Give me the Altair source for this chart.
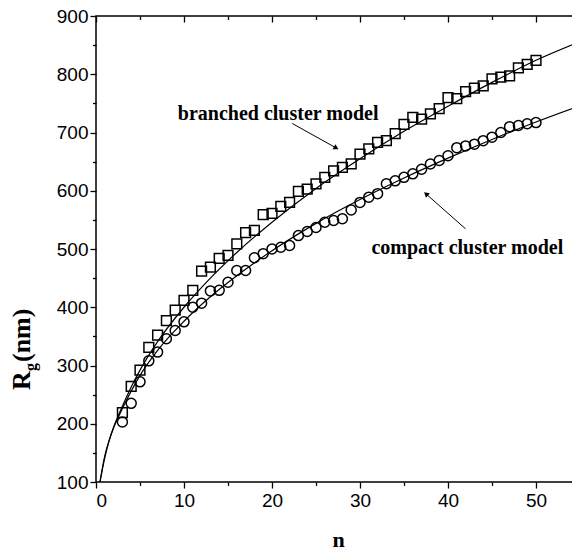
import altair as alt
import pandas as pd

# ---- data ----
n_vals = list(range(3, 51))
rg_branched = [219, 264, 292, 331, 352, 377, 395, 412, 429, 462,
               469, 484, 489, 509, 528, 532, 559, 561, 573, 580,
               599, 603, 612, 623, 634, 640, 646, 663, 672, 683,
               686, 698, 714, 726, 723, 732, 741, 760, 758, 770,
               776, 780, 792, 795, 797, 811, 817, 824]
rg_compact = [203, 235, 272, 308, 323, 346, 360, 375, 400, 407,
              428, 429, 443, 463, 463, 485, 492, 500, 503, 506,
              523, 530, 537, 546, 549, 552, 567, 580, 589, 595,
              612, 617, 623, 629, 637, 646, 652, 660, 674, 677,
              680, 686, 692, 700, 710, 712, 715, 717]

fit_n = [0.45, 1, 1.5, 2, 3, 4, 5, 7, 10, 13, 16, 20, 25, 30, 35, 40, 45, 50, 55]
fit_branched = [100, 142, 171, 194, 230, 263, 292, 341, 400, 450, 494, 546,
                604, 655, 702, 745, 786, 824, 856]
fit_compact = [100, 145, 172, 193, 226, 256, 283, 326, 376, 418, 454, 497,
               544, 585, 622, 656, 688, 718, 746]

ann_text = ["branched cluster model", "compact cluster model"]
ann_n = [20.7, 42.2]
ann_rg = [732, 501]

arr_n0 = [22.3, 42.0]
arr_rg0 = [715.5, 534.6]
arr_n1 = [27.3, 37.5]
arr_rg1 = [673.4, 594.6]
arr_angle = [29, 221]

x_major = [0, 10, 20, 30, 40, 50]
x_minor = [5, 15, 25, 35, 45]
y_major = [100, 200, 300, 400, 500, 600, 700, 800, 900]
y_minor = [150, 250, 350, 450, 550, 650, 750, 850]

W, H = 484, 466

pts = pd.DataFrame({"n": n_vals, "b": rg_branched, "c": rg_compact})
fit = pd.DataFrame({"n": fit_n, "b": fit_branched, "c": fit_compact})
ann = pd.DataFrame({"n": ann_n, "rg": ann_rg, "t": ann_text})
arr = pd.DataFrame({"n0": arr_n0, "r0": arr_rg0, "n1": arr_n1, "r1": arr_rg1,
                    "a": arr_angle})

xs = alt.Scale(domain=[0, 55], nice=False, zero=False)
ys = alt.Scale(domain=[100, 900], nice=False, zero=False)

LF = "Liberation Sans"
SF = "Liberation Serif"

def ax(orient, values, size, labels=False, title=None, offset=0, **kw):
    return alt.Axis(orient=orient, values=values, tickSize=size, labels=labels,
                    title=title, offset=offset, domain=False, grid=False,
                    tickColor="black", tickWidth=1.3, labelColor="black",
                    labelFont=LF, labelFontSize=19, **kw)

curve_b = alt.Chart(fit).mark_line(color="black", strokeWidth=1.2,
                                   interpolate="monotone").encode(
    x=alt.X("n:Q", scale=xs,
            axis=ax("bottom", x_major, 6, labels=True, title="n",
                    labelPadding=3, titleFont=SF, titleFontWeight="bold",
                    titleFontSize=22, titleColor="black", titlePadding=19)),
    y=alt.Y("b:Q", scale=ys,
            axis=ax("left", y_major, 6, labels=True, labelPadding=2)),
)

curve_c = alt.Chart(fit).mark_line(color="black", strokeWidth=1.2,
                                   interpolate="monotone").encode(
    x=alt.X("n:Q", scale=xs, axis=ax("bottom", x_minor, 3.5)),
    y=alt.Y("c:Q", scale=ys, axis=ax("left", y_minor, 3.5)),
)

sq = alt.Chart(pts).mark_point(shape="square", filled=False, size=95,
                               color="black", strokeWidth=1.5, opacity=1).encode(
    x=alt.X("n:Q", scale=xs, axis=ax("bottom", x_major, 6, offset=-H)),
    y=alt.Y("b:Q", scale=ys, axis=ax("left", y_major, 6, offset=-W)),
)

ci = alt.Chart(pts).mark_point(shape="circle", filled=False, size=100,
                               color="black", strokeWidth=1.5, opacity=1).encode(
    x=alt.X("n:Q", scale=xs, axis=ax("bottom", x_minor, 3.5, offset=-H)),
    y=alt.Y("c:Q", scale=ys, axis=ax("left", y_minor, 3.5, offset=-W)),
)

txt = alt.Chart(ann).mark_text(font=SF, fontWeight="bold", fontSize=20,
                               color="black", align="center",
                               baseline="middle").encode(
    x=alt.X("n:Q", scale=xs, axis=None),
    y=alt.Y("rg:Q", scale=ys, axis=None),
    text="t:N",
)

lines = alt.Chart(arr).mark_rule(color="black", strokeWidth=1).encode(
    x=alt.X("n0:Q", scale=xs, axis=None),
    y=alt.Y("r0:Q", scale=ys, axis=None),
    x2="n1:Q", y2="r1:Q",
)

heads = alt.Chart(arr).mark_point(shape="triangle-right", filled=True,
                                  size=35, color="black", opacity=1).encode(
    x=alt.X("n1:Q", scale=xs, axis=None),
    y=alt.Y("r1:Q", scale=ys, axis=None),
    angle=alt.Angle("a:Q", scale=None),
)

# y-axis title: R with subscript g, then (nm)
yt_R = alt.Chart(pd.DataFrame({"t": ["R"]})).mark_text(
    font=SF, fontWeight="bold", fontSize=26, angle=270, align="left",
    baseline="alphabetic", color="black").encode(
    x=alt.value(-66), y=alt.value(374), text="t:N")
yt_g = alt.Chart(pd.DataFrame({"t": ["g"]})).mark_text(
    font=SF, fontWeight="bold", fontSize=16, angle=270, align="left",
    baseline="alphabetic", color="black").encode(
    x=alt.value(-60), y=alt.value(355), text="t:N")
yt_nm = alt.Chart(pd.DataFrame({"t": [" (nm)"]})).mark_text(
    font=SF, fontWeight="bold", fontSize=26, angle=270, align="left",
    baseline="alphabetic", color="black").encode(
    x=alt.value(-66), y=alt.value(346), text="t:N")

chart = alt.layer(curve_b, curve_c, sq, ci, txt, lines, heads, yt_R, yt_g, yt_nm).resolve_scale(
    x="shared", y="shared"
).resolve_axis(
    x="independent", y="independent"
).properties(
    width=W, height=H,
    autosize=alt.AutoSizeParams(type="none"),
    padding={"left": 88, "top": 8, "right": -8, "bottom": 72},
    background="white",
).configure_view(stroke="black", strokeWidth=1.5)

chart.save("out.html", embed_options={"renderer": "svg", "actions": False})
